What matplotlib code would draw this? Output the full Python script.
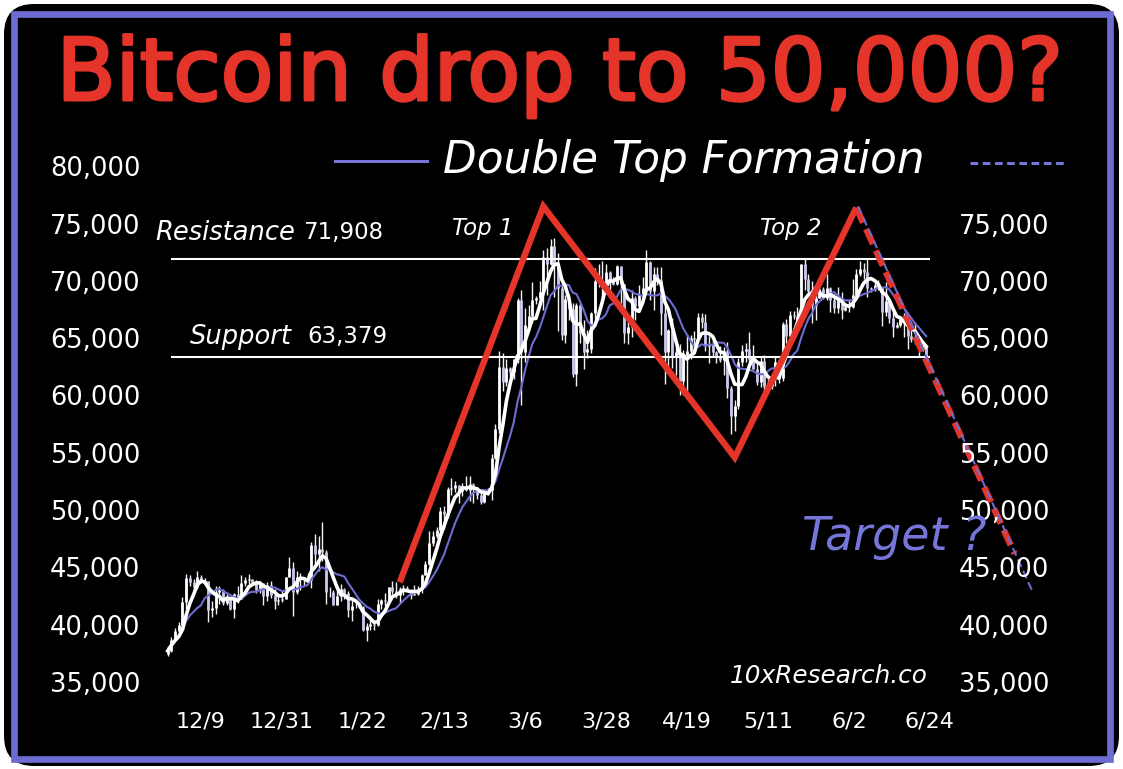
import numpy as np
import pandas as pd
import matplotlib
matplotlib.use("Agg")
import matplotlib.pyplot as plt
import matplotlib.patheffects as pe
from matplotlib.patches import FancyBboxPatch, Rectangle
from matplotlib.lines import Line2D

# daily BTC prices, 2023-11-30 .. 2024-06-23
start_date = "2023-11-30"
close = [37720,
         # Dec
         38700, 39460, 39970, 41980, 44080, 43750, 43290, 44170, 43720, 43790, 41240, 41450, 42890, 43020, 41930, 42240,
         41360, 42660, 42260, 43650, 43870, 43990, 43740, 43020, 43610, 42520, 43440, 42580, 42070, 42140, 42280,
         # Jan
         44180, 44960, 42850, 44180, 44160, 43970, 43930, 46970, 46140, 46630, 46370, 42850, 42840, 41730, 42510, 43150,
         42740, 41260, 41620, 41670, 41580, 39570, 39890, 40080, 39940, 41820, 42120, 42030, 43300, 42940, 42580,
         # Feb
         43080, 43190, 43000, 42580, 42660, 43090, 44320, 45300, 47150, 47770, 48290, 49960, 49700, 51800, 51910, 52160,
         51660, 52120, 51780, 52280, 51840, 51300, 50730, 51570, 51730, 54520, 57090, 62500, 61200,
         # Mar
         62440, 62030, 63170, 68330, 63800, 66110, 66930, 68300, 68500, 69020, 72120, 71480, 73080, 71400, 69400, 65300,
         68390, 67550, 61910, 67910, 65490, 63780, 64060, 67230, 69960, 69990, 69450, 70780, 69890, 69700, 71330,
         # Apr
         69700, 65450, 65980, 68510, 67840, 68900, 69360, 71630, 69140, 70590, 70060, 67200, 63820, 65740, 63420, 63810,
         61280, 63510, 63840, 64990, 64930, 66840, 66410, 64280, 64500, 63760, 63420, 63110, 63840, 60640,
         # May
         58250, 59120, 62890, 63890, 64030, 63160, 62330, 61190, 63050, 60790, 60790, 61450, 62900, 61550, 66270, 65230,
         67050, 66940, 66280, 71450, 70140, 69120, 67930, 68530, 69260, 68500, 69390, 68300, 67610, 68360, 67490,
         # Jun
         67710, 67750, 68800, 70570, 71080, 70760, 69340, 69310, 69650, 69510, 67310, 68240, 66760, 66010, 66190, 66640,
         66490, 65150, 64960, 64830, 64100, 64250, 63180]
high = [38150,
        38950, 39700, 40200, 42400, 44400, 44300, 44000, 44700, 44350, 44050, 43800, 42100, 43400, 43400, 43100, 42700,
        42400, 42750, 43400, 44300, 44200, 44400, 44000, 43900, 43800, 43600, 43700, 43800, 43100, 42600, 42900,
        44200, 45900, 45500, 44700, 44500, 44200, 44500, 47200, 47900, 47700, 48950, 46500, 43250, 43000, 43300, 43550,
        43200, 42900, 42200, 41900, 41850, 41650, 40150, 40500, 40250, 42200, 42200, 42800, 43300, 43850, 43700,
        43250, 43500, 43350, 43100, 43500, 43400, 44400, 45600, 48200, 48150, 48550, 50300, 50350, 52000, 52800, 52550,
        52200, 52350, 52950, 52950, 52350, 52000, 51500, 51700, 51950, 54900, 57500, 63900, 63700,
        63200, 62450, 63200, 68500, 69200, 67600, 67900, 69900, 68700, 70000, 72700, 72900, 73650, 73750, 72400, 70000,
        68800, 68900, 68100, 68100, 68200, 66600, 65700, 67300, 71100, 71500, 71700, 71500, 70900, 70300, 71350,
        71300, 69700, 66900, 69200, 68700, 69600, 70300, 72700, 71700, 71200, 71200, 71200, 67900, 65800, 66800, 64300,
        64500, 64000, 65400, 65300, 65600, 67200, 67200, 67100, 65200, 64800, 63900, 64300, 64200, 64700,
        60800, 59600, 63300, 64400, 64600, 65500, 64400, 62900, 63400, 63500, 61400, 61800, 63400, 63100, 66400, 66700,
        67400, 67400, 67700, 71500, 71900, 70600, 70000, 69200, 69500, 69500, 70600, 69500, 68900, 69500, 69000,
        67900, 68400, 70200, 71000, 71700, 71600, 71900, 69500, 69800, 70100, 69500, 69900, 68400, 67300, 66400, 66900,
        67200, 66500, 65700, 66400, 65000, 64500, 64500]
low = [37250,
       37600, 38650, 39300, 39970, 41400, 43400, 42900, 43100, 43600, 43580, 40200, 40700, 40900, 41800, 41700, 41700,
       41250, 40550, 41850, 42200, 43350, 43400, 43550, 42800, 42800, 41700, 42100, 42300, 41400, 41700, 41950,
       42200, 44150, 40800, 42650, 43000, 43400, 43600, 43200, 45300, 44700, 45600, 41800, 42450, 41700, 41700, 42050,
       42200, 40700, 40300, 41450, 41500, 39450, 38550, 39500, 39550, 39850, 41400, 41650, 41850, 42700, 42300,
       41900, 42600, 42900, 42250, 42550, 42550, 42750, 44300, 45250, 46850, 47550, 47700, 48350, 49300, 51300, 51600,
       50650, 51200, 51700, 50800, 50650, 50950, 50550, 50600, 51300, 50900, 54450, 56700, 60400,
       60800, 61600, 61400, 62800, 59200, 62900, 65600, 66300, 68000, 68300, 67500, 68800, 71400, 68600, 65600, 64800,
       64600, 66600, 61600, 60800, 64600, 62300, 63300, 63700, 66700, 69500, 68400, 68900, 69100, 69600, 69600,
       68100, 64600, 64500, 65100, 66600, 67500, 68800, 69100, 68300, 67500, 69600, 65300, 61000, 62200, 62400, 61800,
       60000, 60000, 59700, 63200, 64300, 64600, 65900, 63900, 62800, 63400, 62800, 62900, 61800, 59800,
       56600, 56900, 58800, 62600, 62900, 62800, 62300, 60900, 60700, 60300, 60400, 60600, 60800, 61100, 61300, 64600,
       65100, 66700, 65900, 66100, 69200, 68800, 66300, 66600, 68500, 68400, 68300, 67300, 67200, 67200, 66700,
       67400, 67300, 67600, 68600, 70400, 70200, 68600, 69000, 69100, 69200, 66100, 66900, 66300, 65100, 65900, 66000,
       65100, 64100, 64700, 64500, 63400, 63900, 63200]
first_open = 37450

resistance = 71908
support = 63379

# double top zigzag and projection
zig_dates = ["2024-02-01", "2024-03-11", "2024-05-02", "2024-06-04"]
zig_vals = [43700, 76500, 54600, 76400]
proj_dates = ["2024-06-04", "2024-07-17"]
proj_vals = [76400, 46200]
trend_dates = ["2024-06-04 12:00", "2024-07-22 00:00"]
trend_vals = [76500, 42800]

tick_dates = ["2023-12-09", "2023-12-31", "2024-01-22", "2024-02-13", "2024-03-06",
              "2024-03-28", "2024-04-19", "2024-05-11", "2024-06-02", "2024-06-24"]
tick_labels = ["12/9", "12/31", "1/22", "2/13", "3/6", "3/28", "4/19", "5/11", "6/2", "6/24"]
left_ticks = [35000, 40000, 45000, 50000, 55000, 60000, 65000, 70000, 75000, 80000]
right_ticks = [35000, 40000, 45000, 50000, 55000, 60000, 65000, 70000, 75000]

RED = "#e5352a"
BLUE = "#6c6cd2"
LAVENDER = "#7676d8"

df = pd.DataFrame({"close": close, "high": high, "low": low},
                  index=pd.date_range(start_date, periods=len(close), freq="D"))
df["open"] = [first_open] + close[:-1]
df["ma_fast"] = df["close"].rolling(5, min_periods=1).mean()
df["ma_slow"] = df["close"].rolling(10, min_periods=1).mean()

W, H = 1123, 769


def px(x, y):
    return x / W, 1 - y / H


fig = plt.figure(figsize=(W / 100, H / 100), dpi=100, facecolor="white")

# frame: black rounded card with blue border
fig.add_artist(FancyBboxPatch((0.04, 0.03), 11.15, 7.62, boxstyle="round,pad=0,rounding_size=0.3",
                              transform=fig.dpi_scale_trans, facecolor="black", edgecolor="none", zorder=-2))
fig.add_artist(Rectangle((0.135, 0.10), 10.96, 7.455, transform=fig.dpi_scale_trans,
                         facecolor="none", edgecolor=BLUE, linewidth=4.8, zorder=-1))

ax = fig.add_axes([160 / W, 69 / H, 785 / W, 550 / H])
ax.set_facecolor("black")
for s in ax.spines.values():
    s.set_visible(False)

d0 = pd.Timestamp("2023-12-09")
ax.set_xlim(d0 + pd.Timedelta(days=-11.1), d0 + pd.Timedelta(days=202.1))
ax.set_ylim(33429, 81422)

# candles
up = df["close"] >= df["open"]
ax.vlines(df.index, df["low"], df["high"], color="#f2f2f2", linewidth=1.0, zorder=2)
ax.vlines(df.index[up], df["open"][up], df["close"][up], color="white", linewidth=2.0, zorder=2)
ax.vlines(df.index[~up], df["open"][~up], df["close"][~up], color="#c9c9f0", linewidth=2.0, zorder=2)

# moving averages
ax.plot(df.index, df["ma_slow"], color=BLUE, linewidth=1.5, zorder=3)
ax.plot(df.index, df["ma_fast"], color="white", linewidth=2.6, zorder=4)

# support / resistance
ax.hlines([resistance, support], df.index[0] + pd.Timedelta(days=1), df.index[-1] + pd.Timedelta(days=1),
          color="white", linewidth=1.5, zorder=5)

# zigzag + projection
ax.plot(pd.to_datetime(zig_dates), zig_vals, color=RED, linewidth=4.6, solid_joinstyle="miter",
        solid_capstyle="butt", zorder=6)
ax.plot(pd.to_datetime(proj_dates), proj_vals, color=RED, linewidth=4.6, dashes=(2.6, 1.1),
        clip_on=False, zorder=6)
ax.plot(pd.to_datetime(trend_dates), trend_vals, color=BLUE, linewidth=1.5, dashes=(4, 2),
        clip_on=False, zorder=7)

# axes ticks
ax.set_xticks(pd.to_datetime(tick_dates))
ax.set_xticklabels(tick_labels)
ax.set_yticks(left_ticks)
ax.set_yticklabels([f"{v:,}" for v in left_ticks])
ax.tick_params(axis="both", length=0, colors="white")
ax.tick_params(axis="y", pad=14, labelsize=18.5)
ax.tick_params(axis="x", pad=8, labelsize=16)

ax2 = ax.twinx()
ax2.set_ylim(ax.get_ylim())
ax2.set_yticks(right_ticks)
ax2.set_yticklabels([f"{v:,}" for v in right_ticks])
ax2.tick_params(axis="y", length=0, colors="white", labelsize=18.5, pad=10)
for s in ax2.spines.values():
    s.set_visible(False)

# texts
fig.text(*px(560, 100), "Bitcoin drop to 50,000?", color=RED, fontsize=62, fontfamily="DejaVu Sans",
         ha="center", va="baseline",
         path_effects=[pe.withStroke(linewidth=2.2, foreground=RED)])

fig.add_artist(Line2D([335 / W, 427 / W], [1 - 161 / H, 1 - 161 / H], color=LAVENDER, linewidth=2.2))
fig.add_artist(Line2D([970 / W, 1065 / W], [1 - 163 / H, 1 - 163 / H], color=LAVENDER, linewidth=2.2,
                      dashes=(2.5, 1.5)))
fig.text(*px(443, 160), "Double Top Formation", color="white", fontsize=31.5, style="italic",
         ha="left", va="center")

fig.text(*px(155, 233), "Resistance", color="white", fontsize=18.5, style="italic", ha="left", va="center")
fig.text(*px(303, 233), f"{resistance:,}", color="white", fontsize=16.5, ha="left", va="center")
fig.text(*px(190, 337), "Support", color="white", fontsize=18.5, style="italic", ha="left", va="center")
fig.text(*px(307, 337), f"{support:,}", color="white", fontsize=16.5, ha="left", va="center")
fig.text(*px(452, 228), "Top 1", color="white", fontsize=16.5, style="italic", ha="left", va="center")
fig.text(*px(760, 229), "Top 2", color="white", fontsize=16.5, style="italic", ha="left", va="center")
fig.text(*px(802, 538), "Target ?", color=LAVENDER, fontsize=33, style="italic", ha="left", va="center")
fig.text(*px(928, 676), "10xResearch.co", color="white", fontsize=17.8, style="italic", ha="right", va="center")

fig.savefig("out.png", dpi=100, facecolor="white")
